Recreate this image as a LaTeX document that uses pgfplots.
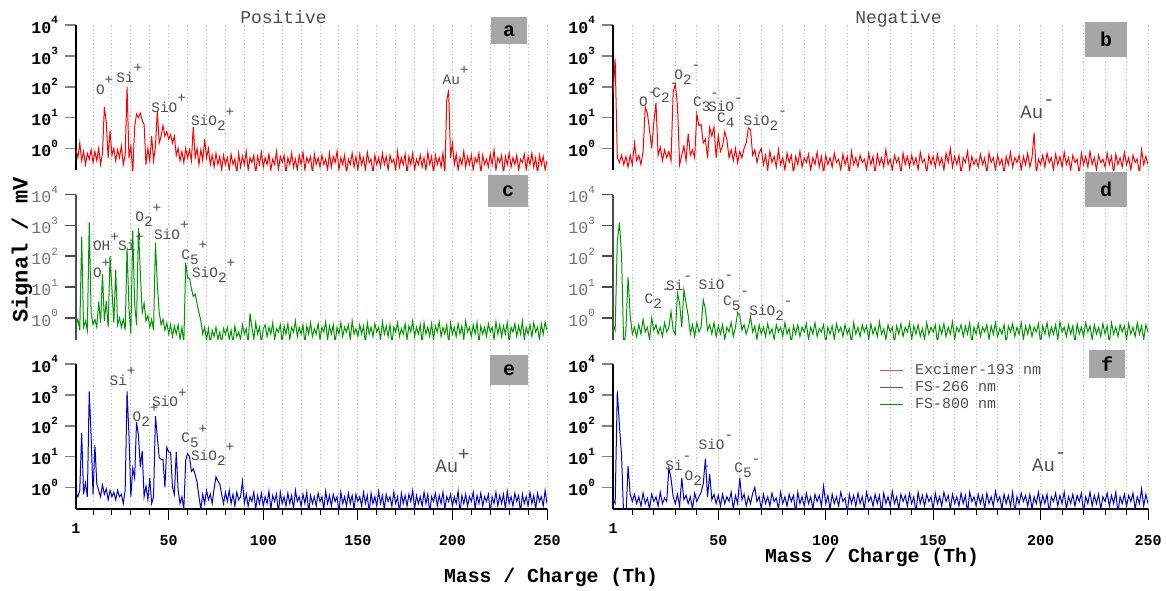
\documentclass[border=0pt]{standalone}
\usepackage{pgfplots}
\pgfplotsset{compat=1.18}
\usepackage{fontspec}
\setmainfont{Liberation Mono}
\definecolor{cred}{RGB}{255,0,0}
\definecolor{cgreen}{RGB}{0,150,0}
\definecolor{cblue}{RGB}{0,0,204}
\definecolor{lblgray}{RGB}{80,80,80}
\definecolor{boxgray}{RGB}{166,166,166}
\newcommand{\tsup}[1]{\raisebox{0.55em}{\fontsize{5.5}{6}\selectfont #1}}
\newcommand{\up}[1]{\raisebox{0.66em}{#1}}
\newcommand{\dn}[1]{\raisebox{-0.35em}{#1}}
\pgfplotsset{
  myspecax/.style={scale only axis, anchor=north west, height=72.5pt,
    xmin=1, xmax=250, ymin=0.2, ymax=10000,
    axis y line*=left, axis x line*=bottom,
    ytick={1,10,100,1000,10000},
    yticklabels={10\tsup{0},10\tsup{1},10\tsup{2},10\tsup{3},10\tsup{4}},
    yminorticks=false, tick align=outside, major tick length=5.5pt,
    y axis line style={line width=0.8pt}, ytick style={line width=0.8pt},
    yticklabel style={font=\bfseries\fontsize{8.3}{9}\selectfont, text=black},
  },
  mytopx/.style={xtick=\empty, x axis line style={draw=none}},
  mygrayax/.style={y axis line style={line width=0.8pt, black!70},
    ytick style={line width=0.8pt, black!70},
    yticklabel style={font=\mdseries\fontsize{8.3}{9}\selectfont, text=black!55}},
  mybottomx/.style={xtick={50,100,150,200,250},
    xticklabels={50,100,150,200,250},
    extra x ticks={1}, extra x tick labels={1},
    extra x tick style={major tick length=0pt},
    minor xtick={10,20,30,40,60,70,80,90,110,120,130,140,160,170,180,190,210,220,230,240},
    x axis line style={line width=0.6pt},
    xtick style={line width=0.5pt, black},
    major tick length=5.5pt, minor tick length=3pt,
    xticklabel style={font=\bfseries\fontsize{7.5}{8}\selectfont, text=black, yshift=-4pt}},
  mygridax/.style={scale only axis, anchor=north west, height=242pt,
    xmin=1, xmax=250, ymin=0, ymax=1, xtick={10,20,...,250}, ytick=\empty,
    xticklabels={}, xmajorgrids, major tick length=0pt,
    major grid style={line width=0.5pt, dash pattern=on 0.6pt off 1.2pt, black!25},
    axis line style={draw=none}},
}
\tikzset{mylw/.style={line width=0.5pt, mark=none}}
\begin{document}
\begin{tikzpicture}
\path[use as bounding box] (0,0) rectangle (583pt,-295pt);
% background grids
\begin{axis}[mygridax, at={(38pt,-12.5pt)}, width=235.5pt]
\end{axis}
\begin{axis}[mygridax, at={(306.5pt,-12.5pt)}, width=267.5pt]
\end{axis}
% ---------- a ----------
\begin{semilogyaxis}[myspecax, mytopx, at={(38pt,-12.5pt)}, width=235.5pt]
\addplot[cred, mylw] coordinates {
(1,0.9)(2,0.5)(3,1.5)(4,0.4)(5,0.8)(6,0.3)(7,0.7)(8,0.45)(9,0.9)(10,0.35)
(11,0.8)(12,0.4)(13,1.0)(14,0.3)(15,0.7)(16,22)(17,7)(18,0.5)(19,3.6)(20,0.6)
(21,1.0)(22,0.4)(23,0.9)(24,0.5)(25,1.2)(26,0.3)(27,0.6)(28,98)(29,0.5)(30,1.2)
(31,0.15)(32,5)(33,13)(34,10)(35,14)(36,8)(37,6)(38,0.3)(39,1.0)(40,0.4)
(41,2.5)(42,0.4)(43,1.2)(44,16)(45,1.5)(46,2.5)(47,5.5)(48,2.5)(49,3.5)(50,2.0)
(51,2.8)(52,1.5)(53,2.5)(54,0.6)(55,1.0)(56,0.4)(57,0.8)(58,0.35)(59,1.0)(60,0.5)
(61,0.9)(62,0.4)(63,4.9)(64,0.5)(65,1.0)(66,0.3)(67,0.9)(68,0.4)(69,2.0)(70,0.5)
(71,1.0)(72,0.3)(73,0.6)(74,0.25)(75,0.7)(76,0.3)(77,0.55)(78,0.2)(79,0.6)(80,0.3)
(81,0.5)(82,0.2)(83,0.65)(84,0.3)(85,0.45)(86,0.15)(87,0.7)(88,0.25)(89,0.55)(90,0.3)
(91,0.8)(92,0.2)(93,0.5)(94,0.35)(95,0.6)(96,0.15)(97,0.55)(98,0.3)(99,0.75)(100,0.25)
(101,0.5)(102,0.3)(103,0.65)(104,0.2)(105,0.45)(106,0.3)(107,0.8)(108,0.2)(109,0.55)(110,0.35)
(111,0.6)(112,0.15)(113,0.5)(114,0.3)(115,0.7)(116,0.25)(117,0.45)(118,0.2)(119,0.6)(120,0.3)
(121,0.75)(122,0.2)(123,0.5)(124,0.35)(125,0.55)(126,0.15)(127,0.65)(128,0.3)(129,0.5)(130,0.25)
(131,0.6)(132,0.3)(133,0.45)(134,0.2)(135,0.7)(136,0.25)(137,0.55)(138,0.35)(139,0.8)(140,0.2)
(141,0.5)(142,0.3)(143,0.6)(144,0.15)(145,0.45)(146,0.3)(147,0.7)(148,0.25)(149,0.55)(150,0.2)
(151,0.65)(152,0.3)(153,0.5)(154,0.2)(155,0.75)(156,0.35)(157,0.45)(158,0.15)(159,0.6)(160,0.3)
(161,0.5)(162,0.25)(163,0.7)(164,0.3)(165,0.55)(166,0.2)(167,0.6)(168,0.35)(169,0.45)(170,0.2)
(171,0.8)(172,0.25)(173,0.5)(174,0.3)(175,0.65)(176,0.15)(177,0.55)(178,0.3)(179,0.7)(180,0.2)
(181,0.45)(182,0.3)(183,0.6)(184,0.25)(185,0.5)(186,0.2)(187,0.75)(188,0.3)(189,0.55)(190,0.15)
(191,0.6)(192,0.3)(193,0.5)(194,0.25)(195,0.7)(196,0.15)(197,35)(198,80)(199,0.5)(200,1.5)
(201,0.3)(202,0.65)(203,0.2)(204,0.5)(205,0.3)(206,0.8)(207,0.25)(208,0.55)(209,0.3)(210,0.6)
(211,0.2)(212,0.5)(213,0.35)(214,0.7)(215,0.15)(216,0.6)(217,0.3)(218,0.45)(219,0.25)(220,0.65)
(221,0.3)(222,0.9)(223,0.2)(224,0.5)(225,0.35)(226,0.6)(227,0.15)(228,0.55)(229,0.3)(230,0.7)
(231,0.25)(232,0.5)(233,0.3)(234,0.6)(235,0.2)(236,0.45)(237,0.35)(238,0.65)(239,0.2)(240,0.55)
(241,0.3)(242,0.7)(243,0.25)(244,0.5)(245,0.15)(246,0.6)(247,0.3)(248,0.55)(249,0.2)(250,0.4)
};
\end{semilogyaxis}
% ---------- b ----------
\begin{semilogyaxis}[myspecax, mytopx, at={(306.5pt,-12.5pt)}, width=267.5pt]
\addplot[cred, mylw] coordinates {
(1,60)(2,800)(3,0.5)(4,0.35)(5,0.6)(6,0.3)(7,0.55)(8,0.25)(9,0.6)(10,0.3)
(11,1.5)(12,0.4)(13,0.6)(14,0.3)(15,0.8)(16,22)(17,14)(18,4)(19,1.0)(20,6.8)
(21,30)(22,0.6)(23,1.1)(24,0.4)(25,0.9)(26,0.5)(27,0.8)(28,0.4)(29,70)(30,120)
(31,25)(32,0.3)(33,0.6)(34,1.2)(35,0.4)(36,3)(37,0.6)(38,0.9)(39,0.5)(40,13)
(41,5.5)(42,6)(43,1.5)(44,2)(45,0.5)(46,4.8)(47,2.5)(48,4.9)(49,0.5)(50,2.6)
(51,0.8)(52,1.2)(53,3.5)(54,1.9)(55,0.5)(56,0.9)(57,0.4)(58,1.0)(59,0.35)(60,0.8)
(61,0.5)(62,1.0)(63,1.5)(64,4.6)(65,4.0)(66,0.6)(67,0.9)(68,0.35)(69,0.7)(70,1.0)
(71,0.3)(72,0.6)(73,0.2)(74,0.8)(75,0.35)(76,0.55)(77,0.25)(78,0.9)(79,0.3)(80,0.5)
(81,0.2)(82,0.7)(83,0.35)(84,0.6)(85,0.15)(86,0.55)(87,0.3)(88,0.8)(89,0.25)(90,0.5)
(91,0.35)(92,0.65)(93,0.2)(94,0.5)(95,0.3)(96,0.75)(97,0.25)(98,0.55)(99,0.15)(100,0.6)
(101,0.3)(102,0.5)(103,0.25)(104,0.7)(105,0.35)(106,0.45)(107,0.2)(108,0.65)(109,0.3)(110,0.55)
(111,0.15)(112,0.8)(113,0.3)(114,0.5)(115,0.25)(116,0.6)(117,0.35)(118,0.45)(119,0.2)(120,0.7)
(121,0.3)(122,0.55)(123,0.15)(124,0.65)(125,0.3)(126,0.5)(127,0.25)(128,0.9)(129,0.3)(130,0.45)
(131,0.2)(132,0.6)(133,0.35)(134,0.5)(135,0.15)(136,0.7)(137,0.3)(138,0.55)(139,0.25)(140,0.6)
(141,0.3)(142,0.5)(143,0.2)(144,0.75)(145,0.35)(146,0.45)(147,0.15)(148,0.6)(149,0.3)(150,0.55)
(151,0.25)(152,0.65)(153,0.3)(154,0.5)(155,0.2)(156,0.7)(157,0.35)(158,1.0)(159,0.25)(160,0.55)
(161,0.3)(162,0.6)(163,0.15)(164,0.5)(165,0.35)(166,0.8)(167,0.2)(168,0.55)(169,0.3)(170,0.45)
(171,0.25)(172,0.65)(173,0.3)(174,0.5)(175,0.15)(176,0.7)(177,0.35)(178,0.5)(179,0.2)(180,0.6)
(181,0.3)(182,0.45)(183,0.15)(184,0.55)(185,0.3)(186,0.75)(187,0.25)(188,0.5)(189,0.35)(190,0.6)
(191,0.2)(192,0.55)(193,0.3)(194,0.7)(195,0.25)(196,0.5)(197,3.2)(198,0.15)(199,0.45)(200,0.3)
(201,0.6)(202,0.25)(203,0.7)(204,0.35)(205,0.5)(206,0.2)(207,0.65)(208,0.3)(209,0.55)(210,0.25)
(211,0.75)(212,0.3)(213,0.5)(214,0.2)(215,0.6)(216,0.35)(217,0.45)(218,0.15)(219,0.7)(220,0.3)
(221,0.55)(222,0.25)(223,0.8)(224,0.3)(225,0.5)(226,0.2)(227,0.6)(228,0.35)(229,0.45)(230,0.25)
(231,0.7)(232,0.3)(233,0.55)(234,0.15)(235,0.65)(236,0.3)(237,0.5)(238,0.25)(239,0.75)(240,0.3)
(241,0.5)(242,0.2)(243,0.6)(244,0.35)(245,0.45)(246,0.15)(247,0.9)(248,0.3)(249,0.55)(250,0.3)
};
\end{semilogyaxis}
% ---------- c ----------
\begin{semilogyaxis}[myspecax, mytopx, mygrayax, at={(38pt,-97.25pt)}, width=235.5pt]
\addplot[cgreen, mylw] coordinates {
(1,0.6)(2,0.9)(3,0.4)(4,430)(5,0.5)(6,0.8)(7,0.4)(8,1250)(9,1.4)(10,0.6)
(11,0.9)(12,0.5)(13,3.4)(14,0.7)(15,27)(16,0.8)(17,3.5)(18,0.5)(19,100)(20,8.6)
(21,0.7)(22,36)(23,0.6)(24,1.0)(25,0.5)(26,0.9)(27,0.4)(28,190)(29,2.0)(30,0.3)
(31,660)(32,3)(33,0.6)(34,830)(35,30)(36,1.5)(37,3)(38,0.8)(39,1.2)(40,0.5)
(41,0.9)(42,0.4)(43,275)(44,12)(45,1.5)(46,0.6)(47,0.9)(48,0.4)(49,0.7)(50,0.3)
(51,0.6)(52,0.25)(53,0.55)(54,0.3)(55,0.6)(56,0.2)(57,0.5)(58,0.15)(59,62)(60,20)
(61,19.5)(62,9)(63,5)(64,6)(65,3)(66,1.5)(67,0.8)(68,0.3)(69,0.5)(70,0.2)
(71,0.45)(72,0.15)(73,0.4)(74,0.25)(75,0.5)(76,0.2)(77,0.35)(78,0.15)(79,0.45)(80,0.3)
(81,0.5)(82,0.2)(83,0.4)(84,0.15)(85,0.55)(86,0.25)(87,0.35)(88,0.2)(89,0.6)(90,0.3)
(91,0.45)(92,0.15)(93,1.4)(94,0.5)(95,0.2)(96,0.7)(97,0.3)(98,0.5)(99,0.15)(100,0.45)
(101,0.6)(102,0.25)(103,0.5)(104,0.3)(105,0.7)(106,0.2)(107,0.45)(108,0.35)(109,0.6)(110,0.15)
(111,0.55)(112,0.3)(113,0.65)(114,0.2)(115,0.5)(116,0.35)(117,0.8)(118,0.25)(119,0.5)(120,0.3)
(121,0.6)(122,0.15)(123,0.55)(124,0.3)(125,0.7)(126,0.25)(127,0.45)(128,0.3)(129,0.65)(130,0.2)
(131,0.5)(132,0.35)(133,0.75)(134,0.2)(135,0.55)(136,0.3)(137,0.6)(138,0.15)(139,0.5)(140,0.3)
(141,0.7)(142,0.25)(143,0.5)(144,0.35)(145,0.6)(146,0.2)(147,0.8)(148,0.3)(149,0.45)(150,0.25)
(151,0.6)(152,0.3)(153,0.55)(154,0.15)(155,0.7)(156,0.3)(157,0.5)(158,0.25)(159,0.65)(160,0.35)
(161,0.5)(162,0.2)(163,0.75)(164,0.3)(165,0.55)(166,0.25)(167,0.6)(168,0.15)(169,0.5)(170,0.35)
(171,0.7)(172,0.25)(173,0.45)(174,0.3)(175,0.65)(176,0.2)(177,0.55)(178,0.35)(179,0.8)(180,0.25)
(181,0.5)(182,0.3)(183,0.6)(184,0.15)(185,0.7)(186,0.3)(187,0.5)(188,0.25)(189,0.65)(190,0.2)
(191,0.55)(192,0.35)(193,0.75)(194,0.25)(195,0.5)(196,0.3)(197,0.6)(198,0.15)(199,0.7)(200,0.3)
(201,0.5)(202,0.25)(203,0.65)(204,0.3)(205,0.55)(206,0.2)(207,0.8)(208,0.35)(209,0.5)(210,0.25)
(211,0.6)(212,0.3)(213,0.7)(214,0.15)(215,0.55)(216,0.3)(217,0.5)(218,0.25)(219,0.65)(220,0.35)
(221,0.5)(222,0.2)(223,0.75)(224,0.3)(225,0.6)(226,0.25)(227,0.55)(228,0.3)(229,0.7)(230,0.15)
(231,0.5)(232,0.35)(233,0.65)(234,0.25)(235,0.55)(236,0.3)(237,0.8)(238,0.2)(239,0.5)(240,0.3)
(241,0.6)(242,0.25)(243,0.7)(244,0.35)(245,0.5)(246,0.2)(247,0.65)(248,0.3)(249,0.75)(250,0.4)
};
\end{semilogyaxis}
% ---------- d ----------
\begin{semilogyaxis}[myspecax, mytopx, mygrayax, at={(306.5pt,-97.25pt)}, width=267.5pt]
\addplot[cgreen, mylw] coordinates {
(1,0.6)(2,0.4)(3,300)(4,1250)(5,100)(6,0.1)(7,0.4)(8,21)(9,1.2)(10,0.3)
(11,0.5)(12,0.25)(13,0.6)(14,0.3)(15,0.9)(16,0.35)(17,0.5)(18,0.2)(19,1.0)(20,0.4)
(21,0.6)(22,0.3)(23,0.5)(24,0.25)(25,0.7)(26,0.35)(27,0.5)(28,1.6)(29,0.4)(30,0.3)
(31,6.4)(32,3)(33,0.5)(34,8.2)(35,3)(36,1.2)(37,0.3)(38,0.6)(39,0.25)(40,0.7)
(41,0.35)(42,0.5)(43,3.9)(44,1.9)(45,0.4)(46,0.6)(47,0.3)(48,0.7)(49,0.25)(50,0.55)
(51,0.3)(52,0.6)(53,0.2)(54,0.5)(55,0.35)(56,0.7)(57,0.25)(58,0.5)(59,1.5)(60,1.2)
(61,0.4)(62,0.6)(63,0.3)(64,0.5)(65,1.1)(66,0.35)(67,0.55)(68,0.2)(69,0.6)(70,0.3)
(71,0.5)(72,0.25)(73,0.65)(74,0.3)(75,0.45)(76,0.2)(77,0.6)(78,0.35)(79,0.5)(80,0.25)
(81,0.7)(82,0.3)(83,0.45)(84,0.15)(85,0.55)(86,0.3)(87,0.6)(88,0.25)(89,0.5)(90,0.35)
(91,0.65)(92,0.2)(93,0.5)(94,0.3)(95,0.7)(96,0.25)(97,0.45)(98,0.35)(99,0.6)(100,0.15)
(101,0.5)(102,0.3)(103,0.55)(104,0.2)(105,0.65)(106,0.35)(107,0.5)(108,0.25)(109,0.6)(110,0.3)
(111,0.45)(112,0.15)(113,0.7)(114,0.3)(115,0.5)(116,0.25)(117,0.6)(118,0.35)(119,0.55)(120,0.2)
(121,0.65)(122,0.3)(123,0.5)(124,0.25)(125,0.75)(126,0.3)(127,0.45)(128,0.2)(129,0.6)(130,0.35)
(131,0.5)(132,0.15)(133,0.55)(134,0.3)(135,0.65)(136,0.25)(137,0.5)(138,0.35)(139,0.7)(140,0.2)
(141,0.55)(142,0.3)(143,0.6)(144,0.25)(145,0.45)(146,0.2)(147,0.7)(148,0.3)(149,0.5)(150,0.35)
(151,0.6)(152,0.15)(153,0.55)(154,0.3)(155,0.65)(156,0.25)(157,0.5)(158,0.3)(159,0.75)(160,0.2)
(161,0.5)(162,0.35)(163,0.6)(164,0.25)(165,0.55)(166,0.3)(167,0.7)(168,0.15)(169,0.5)(170,0.3)
(171,0.65)(172,0.25)(173,0.5)(174,0.35)(175,0.6)(176,0.2)(177,0.55)(178,0.3)(179,0.7)(180,0.25)
(181,0.45)(182,0.3)(183,0.6)(184,0.15)(185,0.55)(186,0.35)(187,0.65)(188,0.25)(189,0.5)(190,0.3)
(191,0.7)(192,0.2)(193,0.55)(194,0.3)(195,0.6)(196,0.25)(197,0.5)(198,0.35)(199,0.65)(200,0.15)
(201,0.55)(202,0.3)(203,0.7)(204,0.25)(205,0.5)(206,0.3)(207,0.6)(208,0.2)(209,0.75)(210,0.35)
(211,0.5)(212,0.25)(213,0.6)(214,0.3)(215,0.55)(216,0.15)(217,0.65)(218,0.3)(219,0.5)(220,0.25)
(221,0.7)(222,0.35)(223,0.55)(224,0.2)(225,0.6)(226,0.3)(227,0.5)(228,0.25)(229,0.65)(230,0.3)
(231,0.55)(232,0.15)(233,0.7)(234,0.3)(235,0.5)(236,0.25)(237,0.6)(238,0.35)(239,0.55)(240,0.2)
(241,0.65)(242,0.3)(243,0.5)(244,0.25)(245,0.7)(246,0.3)(247,0.55)(248,0.2)(249,0.6)(250,0.35)
};
\end{semilogyaxis}
% ---------- e ----------
\begin{semilogyaxis}[myspecax, mybottomx, at={(38pt,-182pt)}, width=235.5pt]
\addplot[cblue, mylw] coordinates {
(1,0.7)(2,0.5)(3,0.8)(4,59)(5,0.6)(6,1.4)(7,0.5)(8,1300)(9,45)(10,0.6)
(11,23)(12,1.3)(13,0.8)(14,0.5)(15,1.2)(16,0.6)(17,0.9)(18,0.4)(19,0.8)(20,0.5)
(21,0.7)(22,0.4)(23,0.8)(24,0.5)(25,0.6)(26,0.3)(27,0.8)(28,1300)(29,51)(30,0.5)
(31,4.1)(32,2)(33,130)(34,50)(35,4.6)(36,15)(37,0.5)(38,1.1)(39,0.4)(40,2)
(41,0.3)(42,0.5)(43,205)(44,43)(45,9.3)(46,8)(47,8)(48,1)(49,20)(50,14)
(51,14)(52,1)(53,0.6)(54,14)(55,0.8)(56,0.3)(57,0.5)(58,0.2)(59,7.6)(60,12.5)
(61,10)(62,3.3)(63,4)(64,2.6)(65,1.5)(66,0.5)(67,0.2)(68,0.6)(69,0.3)(70,0.8)
(71,0.4)(72,0.6)(73,0.3)(74,0.9)(75,2.2)(76,1.6)(77,1.3)(78,0.6)(79,0.3)(80,0.7)
(81,0.35)(82,0.8)(83,0.3)(84,0.6)(85,0.25)(86,0.7)(87,0.4)(88,0.5)(89,1.6)(90,0.3)
(91,0.6)(92,0.25)(93,0.5)(94,0.35)(95,0.7)(96,0.2)(97,0.55)(98,0.3)(99,0.65)(100,0.25)
(101,0.5)(102,0.3)(103,0.75)(104,0.2)(105,0.55)(106,0.35)(107,0.6)(108,0.15)(109,0.7)(110,0.3)
(111,0.5)(112,0.25)(113,0.65)(114,0.3)(115,0.55)(116,0.2)(117,0.8)(118,0.35)(119,0.5)(120,0.25)
(121,0.6)(122,0.3)(123,0.7)(124,0.15)(125,0.55)(126,0.3)(127,0.5)(128,0.25)(129,0.65)(130,0.35)
(131,0.5)(132,0.2)(133,0.75)(134,0.3)(135,0.55)(136,0.25)(137,0.6)(138,0.35)(139,0.5)(140,0.15)
(141,0.7)(142,0.3)(143,0.5)(144,0.25)(145,0.65)(146,0.3)(147,0.55)(148,0.2)(149,0.6)(150,0.35)
(151,0.5)(152,0.25)(153,0.7)(154,0.3)(155,0.55)(156,0.15)(157,0.65)(158,0.3)(159,0.5)(160,0.25)
(161,0.75)(162,0.3)(163,0.55)(164,0.2)(165,0.6)(166,0.35)(167,0.5)(168,0.25)(169,0.7)(170,0.3)
(171,0.5)(172,0.15)(173,0.65)(174,0.3)(175,0.55)(176,0.25)(177,0.6)(178,0.35)(179,0.8)(180,0.2)
(181,0.55)(182,0.3)(183,0.5)(184,0.25)(185,0.7)(186,0.3)(187,0.6)(188,0.15)(189,0.5)(190,0.35)
(191,0.65)(192,0.25)(193,0.55)(194,0.3)(195,0.7)(196,0.2)(197,0.5)(198,0.35)(199,0.6)(200,0.25)
(201,0.5)(202,0.3)(203,0.75)(204,0.15)(205,0.55)(206,0.3)(207,0.6)(208,0.25)(209,0.5)(210,0.35)
(211,0.7)(212,0.2)(213,0.55)(214,0.3)(215,0.65)(216,0.25)(217,0.5)(218,0.35)(219,0.6)(220,0.15)
(221,0.5)(222,0.3)(223,0.7)(224,0.25)(225,0.55)(226,0.3)(227,0.6)(228,0.2)(229,0.75)(230,0.3)
(231,0.5)(232,0.25)(233,0.65)(234,0.35)(235,0.55)(236,0.15)(237,0.6)(238,0.3)(239,0.5)(240,0.25)
(241,0.7)(242,0.3)(243,0.55)(244,0.2)(245,0.65)(246,0.35)(247,0.5)(248,0.25)(249,0.8)(250,0.3)
};
\end{semilogyaxis}
% ---------- f ----------
\begin{semilogyaxis}[myspecax, mybottomx, at={(306.5pt,-182pt)}, width=267.5pt,
  legend image code/.code={\draw[#1, line width=0.6pt] (0pt,0pt) -- (11.5pt,0pt);},
  legend cell align=left,
  legend style={at={(0.498,1.015)}, anchor=north west, draw=none, fill=none,
    inner sep=0pt, font=\fontsize{7.5}{8}\selectfont, text=lblgray,
    /tikz/every odd column/.append style={column sep=4.5pt},
    nodes={inner sep=1pt, text height=5.2pt, text depth=1.3pt}}]
\addlegendimage{cred!70}
\addlegendimage{cblue!70}
\addlegendimage{cgreen}
\addplot[cblue, mylw, forget plot] coordinates {
(1,0.4)(2,0.3)(3,1300)(4,100)(5,10)(6,0.1)(7,0.1)(8,4.9)(9,0.6)(10,0.35)
(11,0.6)(12,0.3)(13,0.5)(14,0.25)(15,0.65)(16,0.3)(17,0.45)(18,0.2)(19,0.6)(20,0.35)
(21,0.5)(22,0.25)(23,0.7)(24,0.3)(25,0.45)(26,0.35)(27,4.4)(28,2)(29,0.5)(30,0.3)
(31,0.6)(32,0.25)(33,2.0)(34,0.4)(35,0.55)(36,0.3)(37,0.5)(38,0.2)(39,0.65)(40,0.35)
(41,0.5)(42,0.7)(43,1.3)(44,8.6)(45,0.5)(46,2.7)(47,0.4)(48,0.6)(49,0.3)(50,0.55)
(51,0.25)(52,0.6)(53,0.3)(54,0.5)(55,0.35)(56,0.7)(57,0.2)(58,0.55)(59,0.3)(60,2.0)
(61,0.4)(62,0.6)(63,0.25)(64,0.5)(65,0.3)(66,0.65)(67,1.0)(68,0.35)(69,0.5)(70,0.2)
(71,0.6)(72,0.3)(73,0.5)(74,0.25)(75,0.65)(76,0.35)(77,0.45)(78,0.2)(79,0.7)(80,0.3)
(81,0.5)(82,0.25)(83,0.6)(84,0.35)(85,0.55)(86,0.15)(87,0.7)(88,0.3)(89,0.5)(90,0.25)
(91,0.65)(92,0.3)(93,0.5)(94,0.2)(95,0.6)(96,0.35)(97,0.55)(98,0.25)(99,1.1)(100,0.3)
(101,0.55)(102,0.2)(103,0.6)(104,0.3)(105,0.5)(106,0.25)(107,0.7)(108,0.35)(109,0.45)(110,0.15)
(111,0.6)(112,0.3)(113,0.55)(114,0.25)(115,0.65)(116,0.3)(117,0.5)(118,0.2)(119,0.7)(120,0.35)
(121,0.5)(122,0.25)(123,0.6)(124,0.3)(125,0.55)(126,0.15)(127,0.65)(128,0.3)(129,0.5)(130,0.25)
(131,0.75)(132,0.3)(133,0.5)(134,0.2)(135,0.6)(136,0.35)(137,0.55)(138,0.25)(139,0.65)(140,0.3)
(141,0.5)(142,0.15)(143,0.7)(144,0.3)(145,0.55)(146,0.25)(147,0.6)(148,0.35)(149,0.5)(150,0.2)
(151,0.65)(152,0.3)(153,0.5)(154,0.25)(155,0.7)(156,0.35)(157,0.55)(158,0.2)(159,0.6)(160,0.3)
(161,0.5)(162,0.25)(163,0.65)(164,0.3)(165,0.55)(166,0.15)(167,0.7)(168,0.35)(169,0.5)(170,0.25)
(171,0.6)(172,0.3)(173,0.55)(174,0.2)(175,0.65)(176,0.3)(177,0.5)(178,0.25)(179,0.75)(180,0.35)
(181,0.5)(182,0.2)(183,0.6)(184,0.3)(185,0.55)(186,0.25)(187,0.7)(188,0.15)(189,0.5)(190,0.3)
(191,0.65)(192,0.35)(193,0.55)(194,0.25)(195,0.6)(196,0.2)(197,0.5)(198,0.3)(199,0.7)(200,0.25)
(201,0.55)(202,0.3)(203,0.6)(204,0.15)(205,0.5)(206,0.35)(207,0.65)(208,0.25)(209,0.55)(210,0.3)
(211,0.7)(212,0.2)(213,0.5)(214,0.3)(215,0.6)(216,0.25)(217,0.55)(218,0.35)(219,0.65)(220,0.15)
(221,0.5)(222,0.3)(223,0.7)(224,0.25)(225,0.55)(226,0.3)(227,0.6)(228,0.2)(229,0.5)(230,0.35)
(231,0.65)(232,0.25)(233,0.55)(234,0.3)(235,0.7)(236,0.15)(237,0.5)(238,0.3)(239,0.6)(240,0.25)
(241,0.55)(242,0.35)(243,0.65)(244,0.2)(245,0.5)(246,0.3)(247,0.9)(248,0.25)(249,0.6)(250,0.3)
};
\legend{Excimer-193 nm, FS-266 nm, FS-800 nm}
\end{semilogyaxis}
% ---------- annotations (pixel coordinates) ----------
\begin{scope}[x=0.5pt, y=-0.5pt,
  lbl/.style={anchor=base west, inner sep=0pt, text=lblgray, font=\fontsize{7.2}{8}\selectfont},
  big/.style={anchor=base west, inner sep=0pt, text=lblgray, font=\fontsize{9.5}{10}\selectfont},
  pbox/.style={fill=boxgray, draw=none},
  plet/.style={font=\bfseries\fontsize{10}{11}\selectfont, text=black, inner sep=0pt}]
% titles and axis labels
\node[anchor=base, text=black!70, font=\fontsize{9}{10}\selectfont] at (283.5,23) {Positive};
\node[anchor=base, text=black!70, font=\fontsize{9}{10}\selectfont] at (898.5,23.5) {Negative};
\node[rotate=90, font=\bfseries\fontsize{11}{12}\selectfont] at (22,250) {Signal / mV};
\node[anchor=base, font=\bfseries\fontsize{9.9}{11}\selectfont] at (551,582) {Mass / Charge (Th)};
\node[anchor=base, font=\bfseries\fontsize{9.9}{11}\selectfont] at (872,562) {Mass / Charge (Th)};
% panel letters
\fill[pbox] (491,17) rectangle (527,44);   \node[plet] at (509,31) {a};
\fill[pbox] (1085,22) rectangle (1127,57); \node[plet] at (1106,39.5) {b};
\fill[pbox] (488,175) rectangle (528,207); \node[plet] at (508,191) {c};
\fill[pbox] (1085,172) rectangle (1127,207); \node[plet] at (1106,189.5) {d};
\fill[pbox] (490,355) rectangle (528,385); \node[plet] at (509,370) {e};
\fill[pbox] (1089,350) rectangle (1125,378); \node[plet] at (1107,364) {f};
% panel a
\node[lbl] at (95.7,94) {O\up{+}};
\node[lbl] at (116,82) {Si\up{+}};
\node[lbl] at (151,112) {SiO\up{+}};
\node[lbl] at (190.7,125.7) {SiO\dn{2}\up{+}};
\node[lbl] at (442.3,84) {Au\up{+}};
% panel b
\node[lbl] at (638.7,106) {O\up{-}};
\node[lbl] at (652,97.3) {C\dn{2}\up{-}};
\node[lbl] at (674,79.3) {O\dn{2}\up{-}};
\node[lbl] at (692.7,106.7) {C\dn{3}\up{-}};
\node[lbl] at (707.7,111.7) {SiO\up{-}};
\node[lbl] at (716.7,122.7) {C\dn{4}};
\node[lbl] at (743.3,125) {SiO\dn{2}\up{-}};
\node[big] at (1020,118.3) {Au\up{-}};
% panel c
\node[lbl] at (92.7,250.7) {OH\up{+}};
\node[lbl] at (117.7,250.7) {Si\up{+}};
\node[lbl] at (92.7,277.3) {O\up{+}};
\node[lbl] at (135,221.7) {O\dn{2}\up{+}};
\node[lbl] at (153.7,239.3) {SiO\up{+}};
\node[lbl] at (181,259.3) {C\dn{5}\up{+}};
\node[lbl] at (191.7,277.3) {SiO\dn{2}\up{+}};
% panel d
\node[lbl] at (644.3,303.3) {C\dn{2}\up{-}};
\node[lbl] at (665.7,290) {Si\up{-}};
\node[lbl] at (698.3,289.3) {SiO\up{-}};
\node[lbl] at (722.7,305) {C\dn{5}\up{-}};
\node[lbl] at (749,315) {SiO\dn{2}\up{-}};
% panel e
\node[lbl] at (109.3,385) {Si\up{+}};
\node[lbl] at (132.3,421.7) {O\dn{2}\up{+}};
\node[lbl] at (151.7,406.7) {SiO\up{+}};
\node[lbl] at (181,442.7) {C\dn{5}\up{+}};
\node[lbl] at (190.7,460.7) {SiO\dn{2}\up{+}};
\node[big] at (435,472.7) {Au\up{+}};
% panel f
\node[lbl] at (665,470) {Si\up{-}};
\node[lbl] at (684.3,480) {O\dn{2}\up{-}};
\node[lbl] at (698.3,449) {SiO\up{-}};
\node[lbl] at (734,472.7) {C\dn{5}\up{-}};
\node[big] at (1031.7,471) {Au\up{-}};
\end{scope}
\end{tikzpicture}
\end{document}
